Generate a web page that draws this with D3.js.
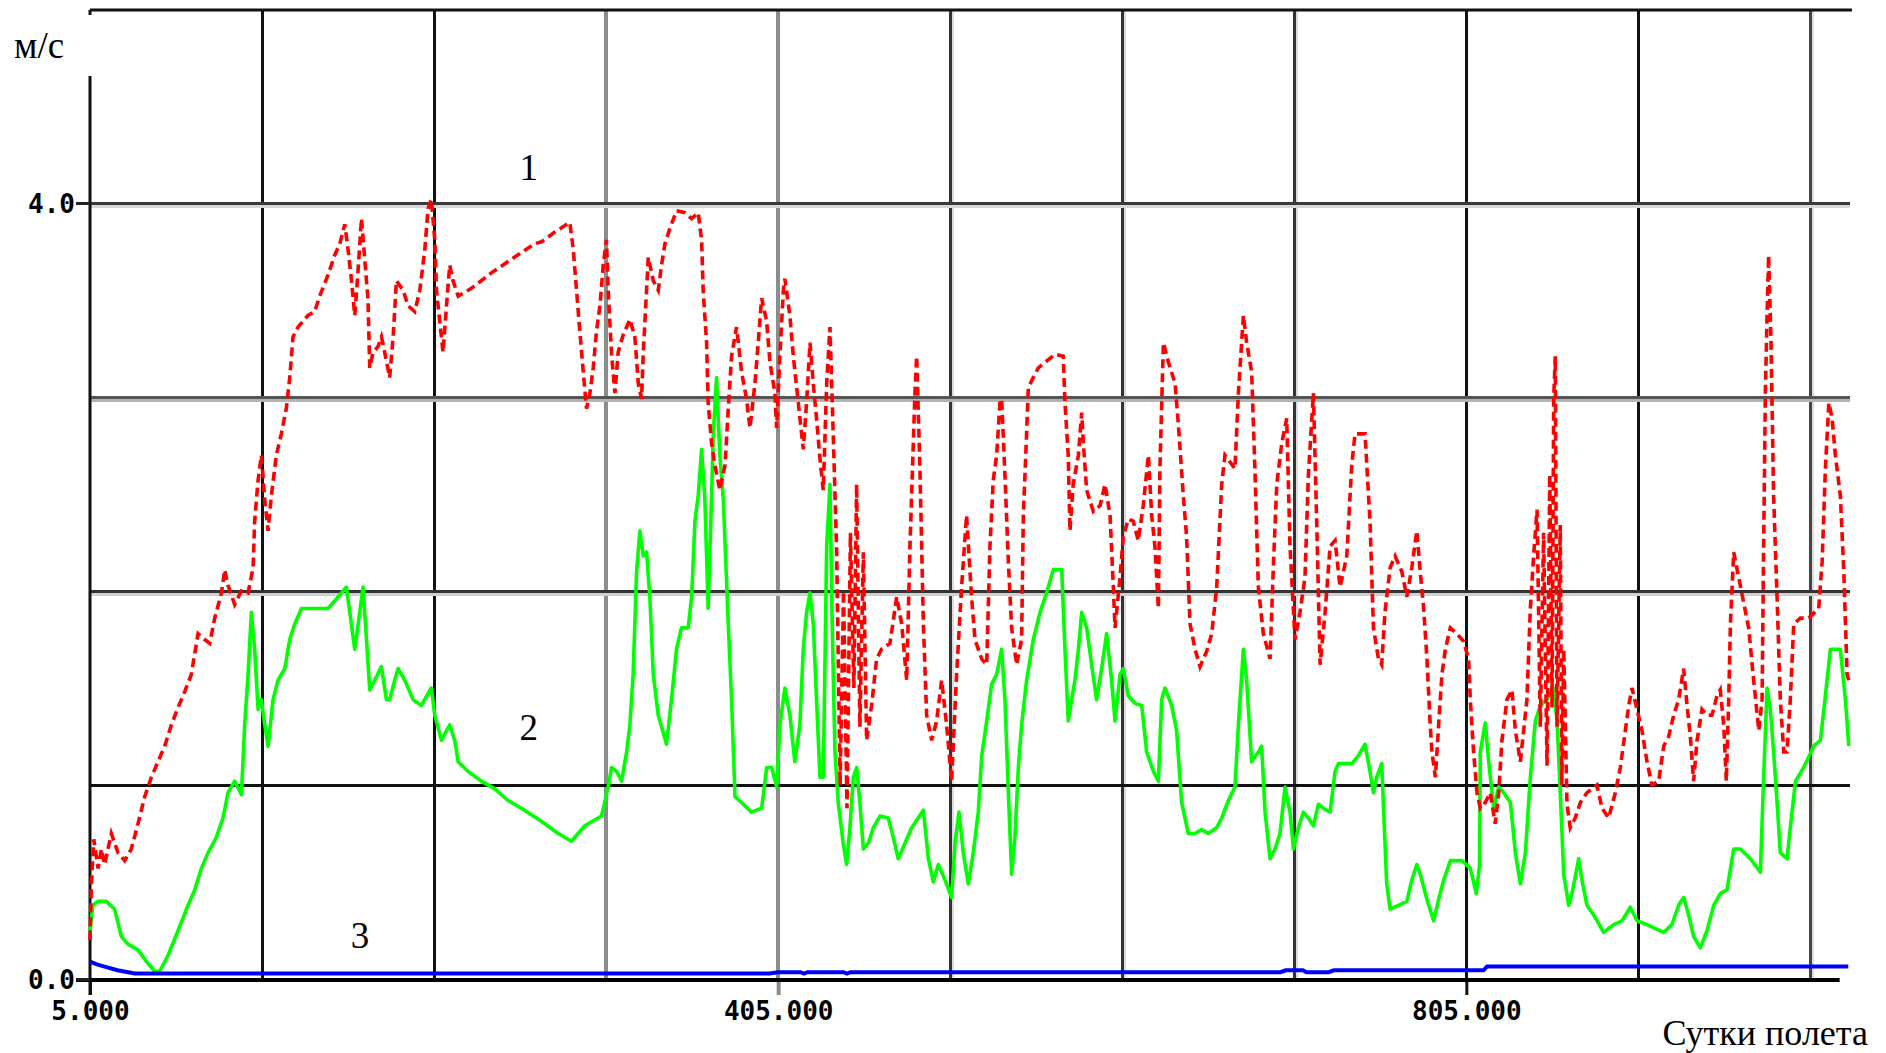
<!DOCTYPE html>
<html>
<head>
<meta charset="utf-8">
<script src="https://cdn.jsdelivr.net/npm/d3@7"></script>
<style>
  body { margin: 0; background: #fff; }
  svg { display: block; }
</style>
</head>
<body>
<svg id="chart"></svg>
<script>
const size = {w: 1886, h: 1053};
const plot = {l: 90, r: 1850, t: 10, b: 979};

// series 1 (red, dashed) : [day, m/s]
const series1 = [[5,0.2],[5.8,0.49],[7.2,0.72],[9.7,0.57],[11.6,0.67],[13.5,0.59],[17.4,0.75],[21.3,0.65],[25.2,0.61],[29,0.67],[32.9,0.8],[36.8,0.94],[40.7,1.04],[44.5,1.12],[48.4,1.2],[52.3,1.31],[56.2,1.4],[60,1.48],[63.9,1.57],[67.8,1.78],[71.7,1.75],[74.6,1.73],[77.5,1.86],[81.4,1.99],[83.3,2.11],[85.2,2.03],[89.1,1.93],[93,2.0],[96.9,1.99],[99.8,2.12],[100.7,2.36],[102.7,2.57],[104.6,2.7],[106.6,2.47],[108.5,2.31],[110.4,2.49],[113.3,2.7],[116.2,2.81],[119.1,2.94],[121.1,3.1],[123,3.31],[125.9,3.36],[131.7,3.42],[135.6,3.44],[138.5,3.52],[143.4,3.63],[147.2,3.73],[150.2,3.79],[153.1,3.89],[155,3.76],[157,3.6],[158.9,3.42],[160.8,3.65],[162.8,3.92],[164.7,3.71],[166.6,3.5],[167.6,3.15],[169.5,3.23],[172.4,3.26],[174.4,3.31],[176.3,3.23],[179.2,3.1],[181.2,3.31],[183.1,3.6],[187,3.55],[189.9,3.47],[193.8,3.44],[196.7,3.55],[199.6,3.76],[201.5,3.97],[203.4,4.02],[205.4,3.81],[206.4,3.55],[208.3,3.39],[210.2,3.23],[212.2,3.47],[214.1,3.68],[216,3.6],[219,3.52],[226.7,3.56],[238.3,3.64],[250,3.71],[263.5,3.79],
  [267.5,3.8],[275.2,3.85],[283.9,3.9],[285.9,3.76],[287.8,3.55],[289.7,3.34],[291.7,3.13],[293.6,2.94],[295.6,3.02],[297.5,3.15],[299.4,3.34],[301.4,3.47],[303.3,3.68],[305.2,3.81],[306.2,3.55],[308.1,3.23],[310.1,3.02],[312,3.23],[314.9,3.32],[318.8,3.4],[321.7,3.31],[323.7,3.07],[325.6,2.99],[326.6,3.23],[328.5,3.55],[329.5,3.72],[332.4,3.6],[335.3,3.55],[337.2,3.68],[339.2,3.79],[342.1,3.87],[345.9,3.96],[350.8,3.95],[354.7,3.92],[358.5,3.95],[360.5,3.81],[361.4,3.55],[363.4,3.28],[364.3,2.97],[366.3,2.76],[368.2,2.65],[371.1,2.52],[374.1,2.65],[376,2.94],[377.9,3.21],[380.8,3.36],[383.7,3.13],[386.6,2.99],[388.6,2.84],[391.5,3.07],[393.4,3.28],[395.4,3.51],[398.3,3.39],[400.2,3.18],[403.1,3.02],[404.1,2.84],[406,3.21],[408,3.55],[408.9,3.61],[411.8,3.42],[413.8,3.21],[416.7,2.97],[419.6,2.73],[421.5,2.97],[423.5,3.28],[425.4,3.07],[427.3,2.89],[429.3,2.68],[431.2,2.52],[433.2,3.07],[435.1,3.36],[437,2.81],[439,2.2],[441,1.0],[443,2.0],[445,0.88],[447,2.3],[449,1.5],[450.6,2.55],[452.5,1.3],[454.5,2.2],[456.4,1.23],[459.3,1.41],[462.2,1.65],[465.1,1.7],[470,1.73],[473.9,1.97],[476.8,1.83],[479.7,1.54],[481.6,2.23],[484.5,3.02],[485.5,3.21],[487.4,2.63],[489.4,1.83],[491.3,1.36],[494.2,1.23],[497.1,1.33],[500,1.54],[502.9,1.31],[505.8,1.02],[508.7,1.57],[511.6,2.02],[514.5,2.39],
  [517.4,1.97],[519.4,1.75],[523.3,1.65],[526.2,1.62],[528.1,2.23],[530,2.57],[532,2.7],[533.9,2.97],[534.9,2.99],[536.8,2.6],[538.8,2.15],[540.7,1.81],[543.6,1.62],[546.5,1.75],[547.5,2.39],[549.4,2.81],[550.4,3.05],[556.2,3.15],[565.9,3.22],[570.7,3.21],[571.7,2.97],[573.6,2.7],[574.6,2.31],[576.5,2.55],[579.5,2.7],[581.4,2.92],[582.4,2.76],[584.3,2.52],[588.2,2.41],[592.1,2.44],[595,2.55],[597.9,2.39],[599.8,2.02],[600.8,1.81],[603.7,2.07],[605.6,2.28],[608.5,2.37],[611.4,2.36],[614.3,2.26],[617.2,2.44],[620.2,2.7],[622.1,2.39],[624,2.23],[626,1.91],[626.9,2.63],[628.9,3.28],[631.8,3.18],[635.7,3.07],[637.6,2.86],[640.5,2.49],[642.4,2.28],[644.4,1.83],[647.3,1.7],[650.2,1.61],[654.1,1.69],[657,1.78],[659.9,2.02],[662.8,2.55],[664.7,2.7],[670.5,2.63],[672.5,3.02],[675.4,3.42],[677.3,3.28],[680.2,3.13],[682.2,2.6],[684.1,2.02],[687,1.78],[690.9,1.65],[692.8,2.12],[694.8,2.55],[697.7,2.76],[700.6,2.89],[702.5,2.23],[705.4,1.75],[708.3,1.89],[711.2,2.07],[713.2,2.6],[716.1,3.02],[718,2.36],[720,1.62],[722.9,1.89],[725.8,2.23],[728.7,2.26],[731.6,2.02],[735.5,2.18],[738.4,2.65],[740.3,2.81],[746.1,2.81],[749,2.36],[751,1.81],[753.9,1.65],[755.8,1.62],[757.7,1.89],[760.7,2.12],[763.6,2.18],[767.5,2.1],[770.4,1.97],[773.3,2.12],[776.2,2.31],
  [778.2,2.1],[780.2,1.91],[782.1,1.65],[784,1.31],[785,1.17],[787,1.04],[788.9,1.31],[790.8,1.57],[792.8,1.7],[795.7,1.81],[799.5,1.78],[803.4,1.74],[806.3,1.65],[807.3,1.44],[809.2,1.17],[811.2,0.96],[813.1,0.88],[816,0.91],[818.9,0.96],[821.8,0.8],[823.8,0.96],[825.7,1.23],[828.6,1.44],[831.5,1.49],[833.5,1.28],[836.4,1.12],[838.3,1.28],[840.2,1.44],[842.2,1.91],[844.1,2.18],[846.1,2.42],[848,1.3],[849.9,2.3],[851.9,1.1],[853.5,2.6],[854.8,1.4],[855.8,3.0],[856.7,3.21],[857.7,1.3],[859.6,2.34],[860.5,1.0],[861.6,1.7],[863.5,0.9],[865.4,0.78],[868.3,0.83],[871.3,0.91],[875.1,0.96],[880.9,1.0],[883.9,0.88],[887.7,0.83],[891.6,0.96],[894.5,1.09],[897.4,1.28],[899.4,1.41],[901.3,1.5],[904.2,1.39],[907.1,1.28],[910,1.12],[912.9,1.0],[916.8,1.02],[919.7,1.2],[922.6,1.25],[925.5,1.36],[928.4,1.44],[931.3,1.6],[933.3,1.41],[935.2,1.25],[937.1,1.02],[939.1,1.23],[942,1.39],[944.9,1.36],[947.8,1.36],[950.7,1.46],[952.6,1.49],[954.6,1.31],[956.1,1.02],[957.5,1.44],[958.5,1.83],[960.4,2.2],[963.3,2.07],[966.2,1.94],[969.1,1.81],[972,1.54],[975,1.28],[976.9,1.44],[977.8,2.23],[978.8,3.02],[979.8,3.42],[980.7,3.73],[982.1,3.28],[983.6,2.49],[985.6,1.97],[987.5,1.44],[989.5,1.17],[991.4,1.17],[993.3,1.44],[995.3,1.83],[999.2,1.86],[1004,1.86],[1009.8,1.91],[1011.8,2.15],[1013.7,2.63],[1015.7,2.97],[1017.6,2.89],[1019.5,2.7],[1022.4,2.49],[1024.4,2.1],[1026.3,1.57],[1027.3,1.54]];

// series 2 (green)
const series2 = [[5,0.25],[6.7,0.38],[9.7,0.4],[14.5,0.4],[19.3,0.36],[23.2,0.22],[27.1,0.18],[32.9,0.15],[37.8,0.09],[42.6,0.04],[45.5,0.04],[50.3,0.12],[56.2,0.25],[62,0.38],[65.9,0.46],[69.7,0.57],[73.6,0.65],[78.4,0.73],[82.3,0.83],[85.2,0.96],[89.1,1.02],[93,0.95],[94.9,1.31],[96.9,1.57],[98.8,1.89],[100.7,1.7],[102.7,1.39],[104.6,1.44],[106.6,1.31],[108.5,1.2],[111.4,1.44],[114.3,1.54],[118.2,1.6],[121.1,1.75],[124,1.83],[127.9,1.91],[135.6,1.91],[143.4,1.91],[149.2,1.97],[154,2.02],[156,1.89],[158.9,1.7],[161.8,1.89],[163.7,2.02],[165.7,1.75],[167.6,1.49],[170.5,1.54],[174.4,1.61],[177.3,1.44],[179.2,1.44],[182.1,1.54],[184.1,1.6],[188,1.54],[192.8,1.44],[197.6,1.41],[203.4,1.5],[205.4,1.36],[209.3,1.23],[212.2,1.28],[214.1,1.31],[217,1.23],[219,1.12],[224.8,1.07],[232.5,1.02],[240.3,0.98],[248,0.92],[255.8,0.88],[264.5,0.83],
  [269.4,0.8],[277.1,0.75],[284.9,0.71],[292.6,0.79],[302.3,0.84],[306.2,0.99],[308.1,1.09],[311.1,1.07],[314,1.02],[316.9,1.17],[318.8,1.31],[320.7,1.57],[322.7,2.1],[324.6,2.31],[326.6,2.18],[328.5,2.2],[330.4,1.97],[332.4,1.57],[335.3,1.36],[340.1,1.21],[343,1.44],[345.9,1.7],[348.8,1.81],[352.7,1.81],[354.7,1.97],[356.6,2.36],[358.5,2.49],[360.5,2.73],[362.4,2.47],[364.3,1.91],[366.3,2.49],[367.3,2.81],[369.2,3.1],[371.1,2.7],[373.1,2.47],[376,1.83],[377.9,1.44],[379.9,0.94],[383.7,0.91],[389.5,0.86],[395.4,0.88],[398.3,1.09],[401.2,1.09],[404.1,0.99],[406,1.31],[408.9,1.5],[411.8,1.36],[414.7,1.12],[417.6,1.31],[419.6,1.7],[421.5,1.89],[423.5,1.99],[425.4,1.83],[427.3,1.44],[429.3,1.04],[431.2,1.04],[433.2,2.23],[435.1,2.55],[436.4,1.83],[438,1.17],[439.9,0.91],[442.8,0.7],[444.8,0.59],[446.7,0.78],[448.7,1.04],[450.6,1.09],[452.5,0.91],[454.5,0.67],[457.4,0.7],[460.3,0.78],[464.2,0.84],[469,0.83],[471.9,0.73],[474.8,0.62],[478.7,0.7],[482.6,0.78],[486.4,0.83],[489.4,0.87],[492.3,0.62],[495.2,0.5],[498.1,0.59],[502,0.51],[505.8,0.42],[507.8,0.7],[510.1,0.86],[512.6,0.65],
  [515.5,0.49],[518.4,0.65],[521.3,0.86],[523.3,1.15],[526.2,1.33],[529.1,1.52],[532,1.57],[534.9,1.7],[536.8,1.44],[538.8,0.96],[540.7,0.54],[542.6,0.73],[544.6,1.09],[546.5,1.31],[549.4,1.54],[553.3,1.75],[557.2,1.89],[561,1.99],[564.9,2.11],[569.8,2.11],[571.7,1.7],[573.6,1.33],[575.6,1.44],[577.5,1.54],[579.5,1.7],[581.4,1.89],[584.3,1.81],[587.2,1.62],[590.1,1.44],[593,1.6],[595.9,1.78],[598.8,1.54],[600.8,1.33],[603.7,1.57],[605.6,1.6],[608.5,1.46],[612.4,1.42],[616.3,1.41],[619.2,1.17],[623.1,1.07],[626,1.02],[627.9,1.44],[629.8,1.5],[633.7,1.41],[636.6,1.28],[639.5,0.91],[643.4,0.75],[647.3,0.75],[651.2,0.77],[655,0.75],[659.9,0.78],[662.8,0.83],[666.7,0.92],[670.5,0.99],[672.5,1.31],[675.4,1.7],[677.3,1.54],[680.2,1.12],[684.1,1.17],[686,1.2],[688,0.86],[690.9,0.62],[693.8,0.67],[696.7,0.75],[699.6,0.99],[702.5,0.86],[704.5,0.67],[707.4,0.78],[710.3,0.86],[713.2,0.83],[716.1,0.79],[719,0.9],[721.9,0.88],[725.8,0.86],[728.7,1.07],[730.6,1.11],[738.4,1.11],[742.2,1.15],[746.1,1.21],[749,1.07],[751,0.96],[752.9,1.04],[755.8,1.11],[758.7,0.49],[760.7,0.36],[765.5,0.38],[770.4,0.4],[773.3,0.51],[776.2,0.59],
  [778.2,0.54],[782.1,0.41],[786,0.3],[788.9,0.41],[791.8,0.51],[795.7,0.61],[802.5,0.61],[807.3,0.57],[810.8,0.44],[812.7,0.59],[813.1,1.17],[816,1.32],[818,1.12],[820.9,0.88],[823.8,0.99],[826.7,0.96],[830.6,0.91],[833.5,0.65],[836.4,0.49],[839.3,0.65],[842.2,1.04],[845.1,1.33],[848,1.41],[851.9,1.44],[855.7,1.5],[857.7,1.33],[859.6,0.96],[861.6,0.54],[864.5,0.38],[866.4,0.44],[870.3,0.62],[872.2,0.51],[875.1,0.38],[879,0.33],[884.8,0.24],[890.6,0.28],[895.5,0.3],[900.3,0.37],[904.2,0.3],[910,0.28],[919.7,0.24],[924.5,0.28],[928.4,0.38],[931.3,0.42],[934.2,0.33],[937.1,0.22],[941,0.16],[944.9,0.25],[948.8,0.38],[952.6,0.44],[956.5,0.46],[960.4,0.67],[964.3,0.67],[970.1,0.62],[975.9,0.55],[977.8,1.04],[979.8,1.5],[981.7,1.39],[983.6,1.17],[985.6,0.91],[987.5,0.65],[991.4,0.62],[993.3,0.78],[996.3,1.02],[1001.1,1.09],[1006.9,1.2],[1010.8,1.23],[1013.7,1.46],[1016.6,1.7],[1022.4,1.7],[1025.3,1.44],[1027.3,1.2]];

// series 3 (blue)
const series3 = [[5,0.09],[9,0.075],[15,0.06],[21,0.045],[31,0.028],[400,0.028],[405,0.035],[418,0.035],[420,0.028],[422,0.035],[443,0.035],[445,0.028],[447,0.035],[697,0.035],[700,0.045],[710,0.045],[712,0.035],[725,0.035],[728,0.045],[815,0.045],[817,0.065],[1027,0.065]];

const xTicks = [5, 405, 805];
const yTicks = [0, 4];
const xGridDays = [105, 205, 305, 405, 505, 605, 705, 805, 905, 1005];
const yGridVals = [1, 2, 3, 4];
const seriesNames = ['1', '2', '3'];
const nameSpots = [[260, 4.12], [260, 1.23], [162, 0.16]];

const svg = d3.select('#chart')
    .attr('width', size.w)
    .attr('height', size.h)
    .style('background', '#fff');

const x = d3.scaleLinear().domain([5, 1028]).range([plot.l, plot.r]);
const y = d3.scaleLinear().domain([0, 5]).range([plot.b, plot.t - 1]);

// grid
const gridStyle = {
    305: {c: '#8c8c8c', w: 4}, 405: {c: '#8c8c8c', w: 4}, 505: {c: '#333', w: 3},
    605: {c: '#333', w: 3}, 705: {c: '#333', w: 3}, 1005: {c: '#444', w: 3}
};
const grid = svg.append('g').classed('grid', true).attr('shape-rendering', 'crispEdges');
grid.selectAll('line.shadowx')
    .data([505, 605, 705, 1005])
    .join('line')
    .attr('x1', d => x(d) + 3).attr('x2', d => x(d) + 3)
    .attr('y1', plot.t).attr('y2', plot.b)
    .attr('stroke', '#dcdcdc').attr('stroke-width', 2);
grid.selectAll('line.vx')
    .data(xGridDays)
    .join('line')
    .attr('x1', d => x(d)).attr('x2', d => x(d))
    .attr('y1', plot.t).attr('y2', plot.b)
    .attr('stroke', d => gridStyle[d] ? gridStyle[d].c : '#111')
    .attr('stroke-width', d => gridStyle[d] ? gridStyle[d].w : 3);

const hStyle = {1: '#111', 2: '#333', 3: '#555', 4: '#3a3a3a'};
const hShadow = {2: '#d0d0d0', 3: '#b4b4b4', 4: '#d8d8d8'};
grid.selectAll('line.shadowy')
    .data([2, 3, 4])
    .join('line')
    .attr('x1', plot.l).attr('x2', plot.r)
    .attr('y1', d => y(d) + 3).attr('y2', d => y(d) + 3)
    .attr('stroke', d => hShadow[d]).attr('stroke-width', 3);
grid.selectAll('line.hy')
    .data(yGridVals)
    .join('line')
    .attr('x1', plot.l).attr('x2', plot.r)
    .attr('y1', d => y(d)).attr('y2', d => y(d))
    .attr('stroke', d => hStyle[d])
    .attr('stroke-width', 3);

// frame
svg.append('line')
    .attr('x1', plot.l).attr('x2', plot.r + 2)
    .attr('y1', plot.t).attr('y2', plot.t)
    .attr('stroke', '#111').attr('stroke-width', 3);
svg.append('line')
    .attr('x1', plot.l).attr('x2', plot.l)
    .attr('y1', plot.t).attr('y2', plot.t + 5)
    .attr('stroke', '#111').attr('stroke-width', 3);
svg.append('line')
    .attr('x1', plot.l).attr('x2', plot.l)
    .attr('y1', 76).attr('y2', plot.b + 16)
    .attr('stroke', '#111').attr('stroke-width', 3);

// series
const line = d3.line().x(d => x(d[0])).y(d => y(d[1]));

svg.append('path')
    .datum(series2)
    .attr('d', line)
    .attr('fill', 'none')
    .attr('stroke', '#00ff00')
    .attr('stroke-width', 3.6)
    .attr('stroke-linejoin', 'round');

svg.append('path')
    .datum(series1)
    .attr('d', line)
    .attr('fill', 'none')
    .attr('stroke', '#ff0000')
    .attr('stroke-width', 3.6)
    .attr('stroke-dasharray', '9,5');

// axes
const fontTicks = '"DejaVu Sans Mono", monospace';
const xAxis = svg.append('g')
    .attr('transform', `translate(0,${plot.b})`)
    .call(d3.axisBottom(x).tickValues(xTicks).tickSize(16).tickFormat(d3.format('.3f')))
    .call(g => g.select('.domain').remove())
    .call(g => g.selectAll('.tick line').attr('stroke', '#111').attr('stroke-width', 3))
    .call(g => g.selectAll('text')
        .attr('y', 41).attr('dy', null)
        .attr('fill', '#000')
        .attr('font-family', fontTicks).attr('font-weight', 'bold').attr('font-size', 26));
xAxis.select('.tick:nth-child(2) line').attr('stroke', '#8c8c8c').attr('stroke-width', 4);

svg.append('line')
    .attr('x1', 76).attr('x2', x(1022))
    .attr('y1', plot.b + 1).attr('y2', plot.b + 1)
    .attr('stroke', '#000').attr('stroke-width', 4);

svg.append('g')
    .attr('transform', `translate(${plot.l},0)`)
    .call(d3.axisLeft(y).tickValues(yTicks).tickSize(14).tickPadding(1).tickFormat(d3.format('.1f')))
    .call(g => g.select('.domain').remove())
    .call(g => g.selectAll('.tick line').attr('stroke', '#222').attr('stroke-width', 3))
    .call(g => g.selectAll('text')
        .attr('dy', '0.38em')
        .attr('fill', '#000')
        .attr('font-family', fontTicks).attr('font-weight', 'bold').attr('font-size', 26));

svg.append('path')
    .datum(series3)
    .attr('d', line)
    .attr('fill', 'none')
    .attr('stroke', '#0000ff')
    .attr('stroke-width', 4);

// texts
const serif = '"Liberation Serif", "Times New Roman", serif';
svg.append('text')
    .attr('x', 14).attr('y', 58)
    .attr('font-family', serif).attr('font-size', 37)
    .text('м/с');
svg.append('text')
    .attr('x', 1868).attr('y', 1045)
    .attr('text-anchor', 'end')
    .attr('font-family', serif).attr('font-size', 36)
    .text('Сутки полета');

svg.selectAll('text.name')
    .data(seriesNames)
    .join('text')
    .classed('name', true)
    .attr('x', (d, i) => x(nameSpots[i][0]))
    .attr('y', (d, i) => y(nameSpots[i][1]))
    .attr('text-anchor', 'middle')
    .attr('font-family', serif).attr('font-size', 37)
    .text(d => d);
</script>
</body>
</html>
